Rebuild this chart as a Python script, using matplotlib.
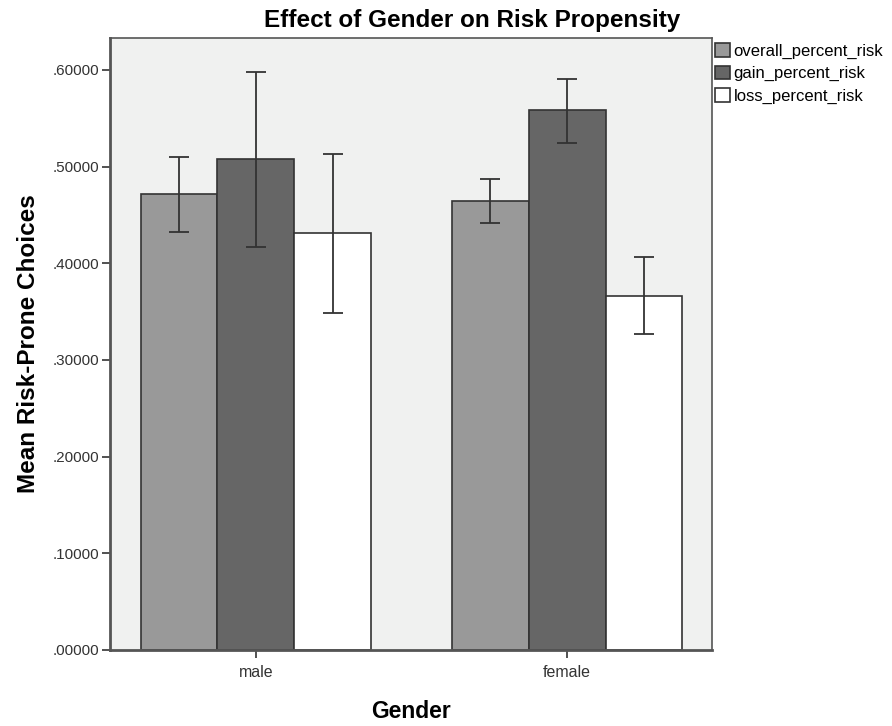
import numpy as np
import matplotlib
matplotlib.use('Agg')
from matplotlib import pyplot as plt
from matplotlib.ticker import FuncFormatter

# Daten
genders = ['male', 'female']
series = ['overall_percent_risk', 'gain_percent_risk', 'loss_percent_risk']
means = [
    [0.472, 0.464],   # overall
    [0.508, 0.558],   # gain
    [0.431, 0.366],   # loss
]
err_low = [
    [0.432, 0.442],
    [0.417, 0.524],
    [0.349, 0.327],
]
err_high = [
    [0.510, 0.487],
    [0.598, 0.591],
    [0.513, 0.406],
]
y_ticks = [0.0, 0.1, 0.2, 0.3, 0.4, 0.5, 0.6]

plt.rcParams['font.family'] = ['Liberation Sans', 'DejaVu Sans']

fig = plt.figure(figsize=(8.92, 7.26), dpi=100)
ax = fig.add_axes([0.1233, 0.1047, 0.675, 0.843])
ax.set_facecolor('#f0f1f0')

fills = ['#999999', '#666666', '#ffffff']
width = 0.247
x = np.arange(len(genders))
for i, name in enumerate(series):
    pos = x + (i - 1) * width
    m = np.array(means[i])
    lo = m - np.array(err_low[i])
    hi = np.array(err_high[i]) - m
    ax.bar(pos, m, width, color=fills[i], edgecolor='#333333', linewidth=1.2, label=name, zorder=2)
    ax.errorbar(pos, m, yerr=[lo, hi], fmt='none', ecolor='#333333', elinewidth=1.3,
                capsize=7, capthick=1.3, zorder=3)

ax.set_xlim(-0.469, 1.466)
ax.set_ylim(0, 0.633)
ax.set_xticks(x)
ax.set_xticklabels(genders, fontsize=11.5, color='#333333')
ax.set_yticks(y_ticks)
ax.yaxis.set_major_formatter(FuncFormatter(lambda v, p: f'{v:.5f}'.lstrip('0')))
ax.tick_params(axis='y', labelsize=11, colors='#333333', length=6, width=1.2, pad=2)
ax.tick_params(axis='x', length=6, width=1.2, colors='#333333', pad=5)
for s in ax.spines.values():
    s.set_color('#555555')
    s.set_linewidth(1.2)
ax.spines['left'].set_linewidth(2)
ax.spines['bottom'].set_linewidth(2)

# Titel (über Achse und Legende zentriert)
fig.text(472 / 892, 1 - 21 / 726, 'Effect of Gender on Risk Propensity', fontsize=17.5,
         fontweight='bold', ha='center', va='center')
ax.set_xlabel('Gender', fontsize=16.5, fontweight='bold', labelpad=14)
ax.set_ylabel('Mean Risk-Prone Choices', fontsize=17.5, fontweight='bold', labelpad=9)

ax.legend(loc='upper left', bbox_to_anchor=(0.994, 1.002), frameon=False, fontsize=12,
          handlelength=0.9, handleheight=0.9, handletextpad=0.2, labelspacing=0.38,
          borderaxespad=0)

plt.savefig('out.png', dpi=100)
